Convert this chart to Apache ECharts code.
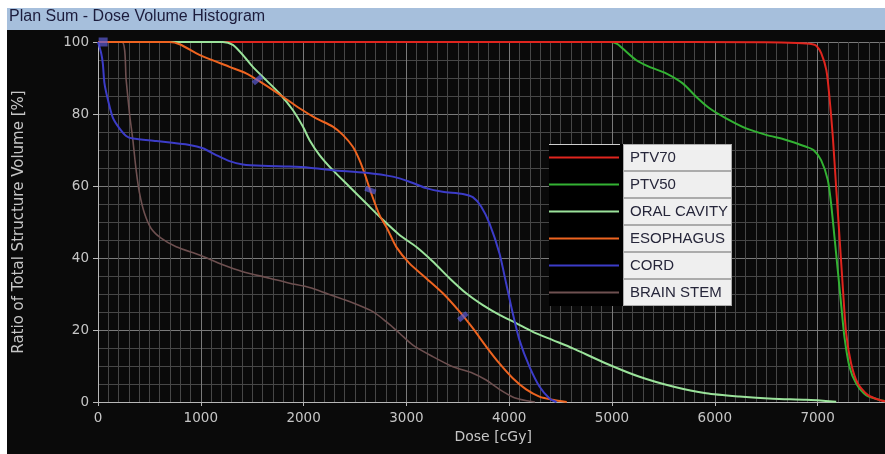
<!DOCTYPE html>
<html>
<head>
<meta charset="utf-8">
<title>Plan Sum - Dose Volume Histogram</title>
<script src="https://cdn.jsdelivr.net/npm/echarts@6/dist/echarts.min.js"></script>
<style>
  html, body { margin: 0; padding: 0; background: #ffffff; }
  #dvh { width: 885px; height: 454px; }
</style>
</head>
<body>
<div id="dvh"></div>
<script>
// Structures in legend order
const structureNames = ['PTV70', 'PTV50', 'ORAL CAVITY', 'ESOPHAGUS', 'CORD', 'BRAIN STEM'];
const structureColors = ['#e0251e', '#33b233', '#9be39b', '#ee6420', '#3c3cc8', '#6e5050'];
// Drawing order (higher draws on top)
const structureZ = [4, 3, 6, 7, 8, 5];

// Cumulative DVH: dose in cGy, volume in % of structure
const ptv70Dose = [0, 5000, 6500, 6800, 6950, 6990, 7035, 7085, 7115, 7148, 7180, 7213, 7245, 7278, 7326, 7390, 7490, 7620, 7700];
const ptv70Vol  = [100, 100, 99.9, 99.7, 99.4, 98.9, 96.9, 92.2, 84.8, 73.7, 59.8, 45.9, 32, 19.1, 10.7, 5.2, 1.9, 0.4, 0];

const ptv50Dose = [0, 4990, 5050, 5104, 5234, 5364, 5526, 5688, 5818, 5948, 6110, 6305, 6499, 6694, 6889, 6960, 7034, 7099, 7131, 7164, 7196, 7228, 7261, 7310, 7374, 7472, 7601, 7700];
const ptv50Vol  = [100, 100, 99.5, 98.2, 95, 93.1, 91.3, 88.5, 84.8, 81.6, 78.8, 76, 74.2, 72.8, 70.9, 70, 67.2, 61.7, 55.2, 45.9, 36.7, 27.4, 18.1, 9.8, 5.2, 1.9, 0.6, 0];

const oralDose = [0, 1214, 1312, 1409, 1506, 1636, 1766, 1895, 1993, 2057, 2155, 2284, 2446, 2608, 2771, 2933, 3095, 3257, 3419, 3582, 3744, 3905, 4067, 4230, 4424, 4619, 4943, 5268, 5592, 5916, 6240, 6565, 6889, 7181];
const oralVol  = [100, 100, 99.2, 96.4, 93.1, 89.4, 85.7, 81.1, 76.5, 72.8, 68.6, 64.4, 59.8, 55.2, 50.6, 46.4, 43.1, 39, 34.4, 30.2, 26.9, 24.2, 21.9, 19.5, 17.2, 14.9, 10.7, 7.0, 4.3, 2.4, 1.5, 0.9, 0.6, 0.1];

const esophDose = [0, 696, 800, 987, 1279, 1441, 1603, 1798, 1960, 2122, 2284, 2382, 2479, 2544, 2593, 2658, 2739, 2820, 2901, 3030, 3192, 3355, 3517, 3646, 3776, 3905, 4035, 4165, 4294, 4424, 4560];
const esophVol  = [100, 100, 99.3, 96.4, 93.1, 91.3, 88.5, 84.8, 81.6, 78.8, 76.5, 74.2, 70.9, 67.2, 63.5, 58, 51.9, 47.8, 43.1, 38.5, 34.4, 30.2, 25.1, 20.5, 15.4, 10.7, 6.6, 3.5, 1.5, 0.6, 0];

const cordDose = [0, 30, 47, 63, 96, 144, 209, 274, 339, 566, 890, 1020, 1149, 1279, 1409, 1603, 1863, 2057, 2284, 2608, 2868, 3030, 3192, 3352, 3549, 3646, 3727, 3808, 3905, 3970, 4035, 4100, 4197, 4294, 4392, 4460];
const cordVol  = [100, 97, 94, 88.5, 84, 79, 76, 73.9, 73.2, 72.5, 71.4, 70.5, 68.6, 66.9, 66, 65.6, 65.4, 65.1, 64.4, 63.7, 62.6, 61.2, 59.4, 58.4, 57.8, 56.9, 54.3, 49.6, 41.3, 33, 24.6, 17.2, 9.8, 4.3, 1.0, 0];

const brainDose = [0, 232, 274, 306, 339, 371, 404, 452, 517, 614, 760, 987, 1214, 1409, 1668, 1863, 2057, 2220, 2446, 2674, 2804, 2933, 3063, 3257, 3452, 3646, 3776, 3905, 4050, 4200, 4250];
const brainVol  = [100, 100, 89.4, 80.2, 72.8, 64.4, 58, 52.4, 48.2, 45.5, 43.1, 40.8, 38.1, 36.2, 34.4, 33, 31.8, 30.2, 27.9, 25.1, 22.3, 19.1, 15.8, 12.6, 9.8, 8.0, 6.1, 3.5, 1.2, 0.2, 0];

// Dose/volume point markers placed on the curves
const markerDose  = [50, 1552, 2650, 3549];
const markerVol   = [100, 89.5, 58.8, 23.7];
const markerAngle = [0, 40, -20, 40];

// Axis ranges
const doseMin = 0, doseMax = 8000, doseStep = 1000;
const volMin = 0, volMax = 100, volStep = 20;

const curveDose = [ptv70Dose, ptv50Dose, oralDose, esophDose, cordDose, brainDose];
const curveVol  = [ptv70Vol, ptv50Vol, oralVol, esophVol, cordVol, brainVol];

const pairs = (xs, ys) => xs.map((x, i) => [x, ys[i]]);

const chart = echarts.init(document.getElementById('dvh'), null, { renderer: 'canvas' });

const lineSeries = structureNames.map((name, k) => ({
  name: name,
  type: 'line',
  data: pairs(curveDose[k], curveVol[k]),
  color: structureColors[k],
  showSymbol: false,
  symbol: 'none',
  smooth: 0.25,
  lineStyle: { width: name === 'BRAIN STEM' ? 1.6 : 2, color: structureColors[k] },
  emphasis: { disabled: true },
  z: structureZ[k]
}));

const markerSeries = {
  name: 'markers',
  type: 'scatter',
  symbol: 'rect',
  data: markerDose.map((d, i) => ({
    value: [d, markerVol[i]],
    symbolRotate: markerAngle[i],
    symbolSize: i === 0 ? [9, 9] : [11, 5]
  })),
  itemStyle: { color: 'rgba(92, 92, 215, 0.85)' },
  emphasis: { disabled: true },
  z: 20
};

const axisText = { color: '#c6c6c6', fontFamily: 'DejaVu Sans', fontSize: 13.5, formatter: v => String(v) };

chart.setOption({
  animation: false,
  backgroundColor: '#0a0a0a',
  title: {
    text: 'Plan Sum - Dose Volume Histogram',
    left: 9,
    top: 9,
    padding: 0,
    textStyle: { color: '#1c1c3c', fontFamily: 'Liberation Sans', fontSize: 16, fontWeight: 'normal' }
  },
  graphic: [
    { type: 'rect', shape: { x: 0, y: 0, width: 885, height: 8 }, style: { fill: '#ffffff' }, z: 0 },
    { type: 'rect', shape: { x: 0, y: 0, width: 7, height: 454 }, style: { fill: '#ffffff' }, z: 0 },
    { type: 'rect', shape: { x: 7, y: 8, width: 878, height: 22 }, style: { fill: '#a6bfdc' }, z: 0 },
    { type: 'line', shape: { x1: 549, y1: 144.5, x2: 620, y2: 144.5 }, style: { stroke: '#cfcfcf', lineWidth: 1 }, z: 10 }
  ],
  legend: {
    data: structureNames,
    orient: 'vertical',
    left: 549,
    top: 144,
    padding: 0,
    itemGap: 0,
    itemWidth: 70,
    itemHeight: 2,
    icon: 'rect',
    selectedMode: false,
    backgroundColor: '#000000',
    textStyle: {
      color: '#26263a',
      fontFamily: 'Liberation Sans',
      fontSize: 15,
      backgroundColor: '#efefef',
      borderColor: '#ababab',
      borderWidth: 1,
      width: 101,
      height: 25,
      lineHeight: 25,
      padding: [0, 0, 0, 6]
    }
  },
  grid: { left: 98, top: 42, width: 822.4, height: 360, containLabel: false, outerBoundsMode: 'none' },
  xAxis: {
    type: 'value',
    min: doseMin,
    max: doseMax,
    interval: doseStep,
    name: 'Dose [cGy]',
    nameLocation: 'middle',
    nameGap: 18,
    nameTextStyle: { color: '#c6c6c6', fontFamily: 'DejaVu Sans', fontSize: 14, padding: [0, 32, 0, 0] },
    axisLine: { show: true, lineStyle: { color: '#b8b8b8', width: 1 } },
    axisTick: { show: true, length: 4, lineStyle: { color: '#b8b8b8' } },
    axisLabel: Object.assign({ margin: 9, showMaxLabel: false }, axisText),
    splitLine: { show: true, lineStyle: { color: '#7a7a7a', width: 1 } },
    minorTick: { show: false, splitNumber: 10 },
    minorSplitLine: { show: true, lineStyle: { color: '#474747', width: 1 } }
  },
  yAxis: {
    type: 'value',
    min: volMin,
    max: volMax,
    interval: volStep,
    name: 'Ratio of Total Structure Volume [%]',
    nameLocation: 'middle',
    nameGap: 71,
    nameTextStyle: { color: '#c6c6c6', fontFamily: 'DejaVu Sans', fontSize: 15 },
    axisLine: { show: true, lineStyle: { color: '#b8b8b8', width: 1 } },
    axisTick: { show: true, length: 5, lineStyle: { color: '#b8b8b8' } },
    axisLabel: Object.assign({ margin: 9 }, axisText),
    splitLine: { show: true, lineStyle: { color: '#7a7a7a', width: 1 } },
    minorTick: { show: false, splitNumber: 4 },
    minorSplitLine: { show: true, lineStyle: { color: '#474747', width: 1 } }
  },
  series: lineSeries.concat([markerSeries])
});
</script>
</body>
</html>
